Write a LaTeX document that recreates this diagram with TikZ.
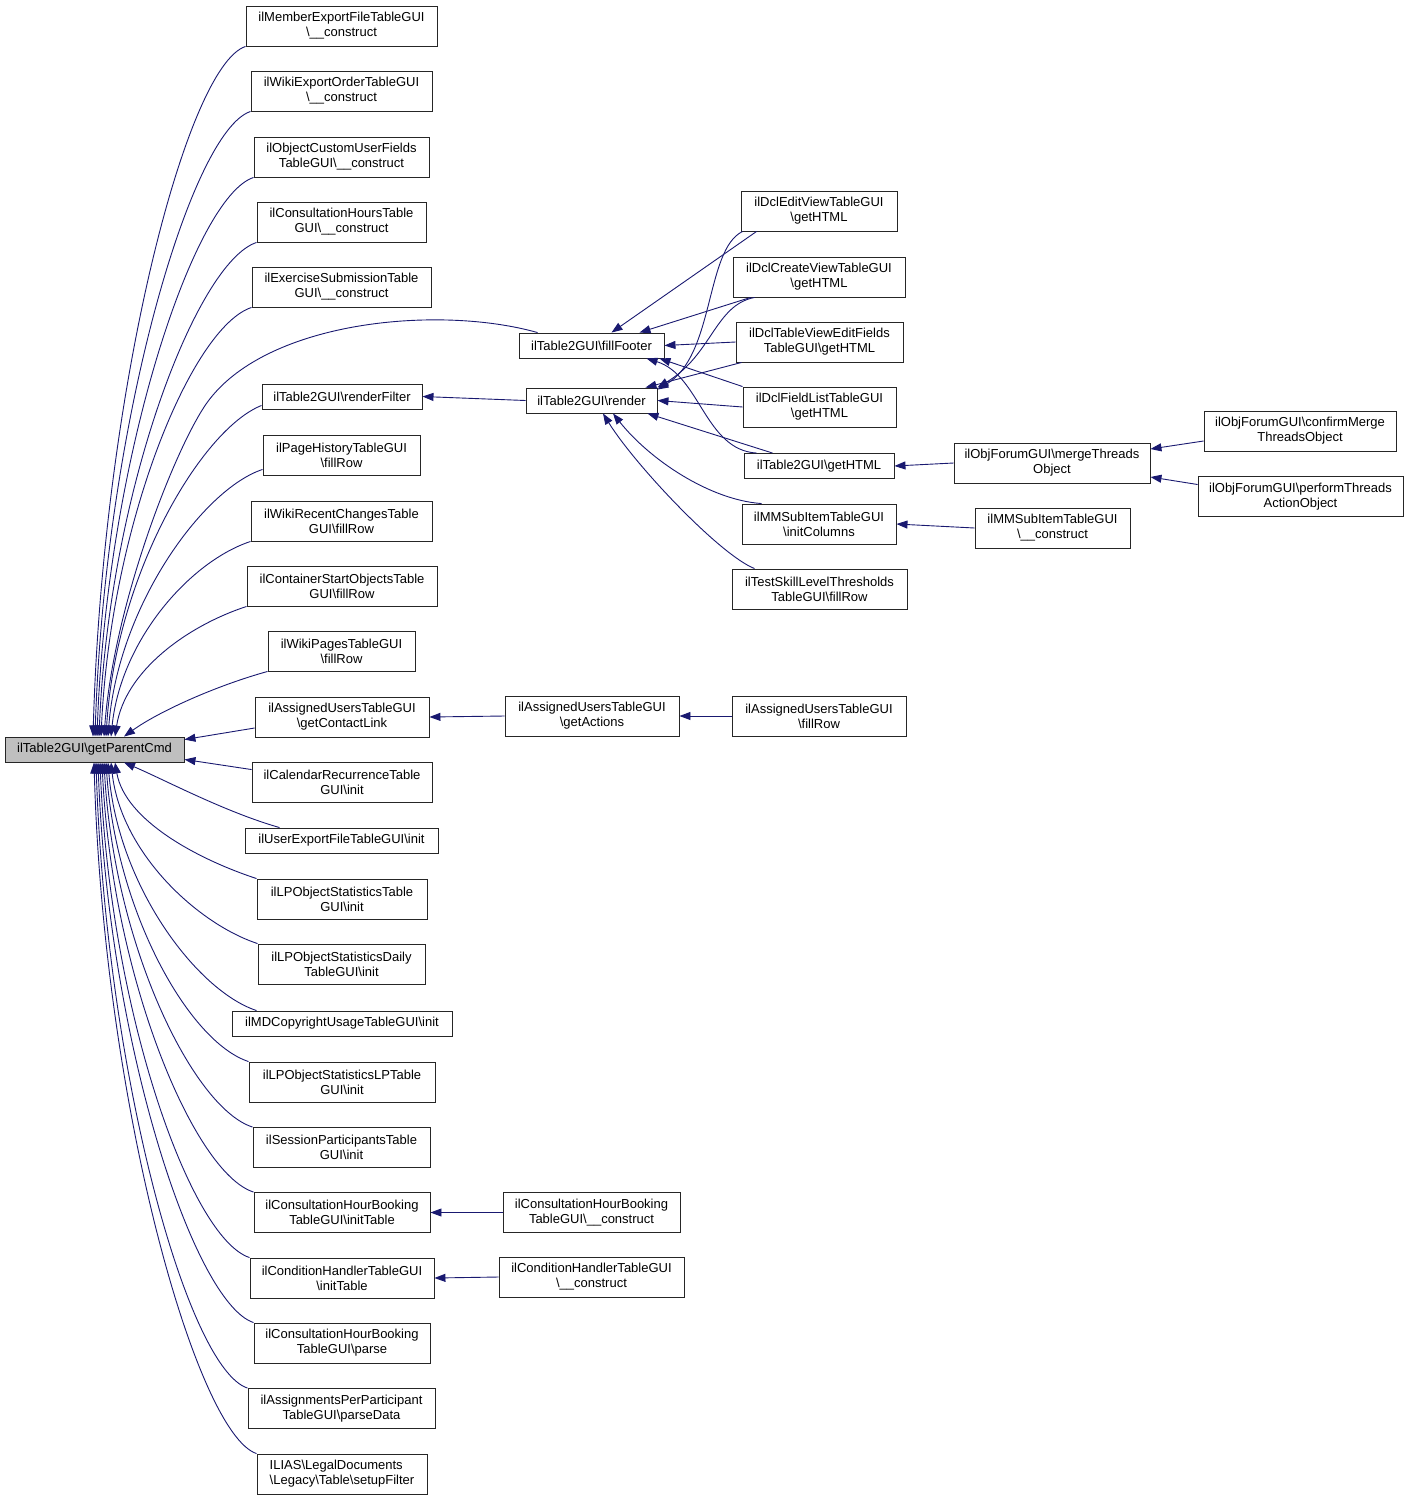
\documentclass[tikz,border=0pt]{standalone}
\usepackage{fontspec}
\setmainfont{Liberation Sans}
\usetikzlibrary{arrows.meta}
\definecolor{midblue}{HTML}{191970}
\newcommand{\bksl}{\textbackslash}
\tikzset{
	fn/.style={draw=black!85, fill=white, line width=0.9pt, inner sep=0pt, align=center, font=\fontsize{13}{15}\selectfont, minimum height=40pt},
	fnone/.style={fn, minimum height=25pt},
	focus/.style={fnone, fill=gray!50},
	calls/.style={draw=midblue, line width=0.9pt, ->, >={Triangle[length=11pt,width=8pt]}}
}

\begin{document}
\begin{tikzpicture}[x=1pt, y=-1pt]
\useasboundingbox (0,0) rectangle (1408,1500);
% the function itself
\node[focus, minimum width=179pt] (root) at (94.5,749.5) {ilTable2GUI\bksl getParentCmd};
% direct callers
\node[fn, minimum width=191pt] (m1) at (341.5,26) {ilMemberExportFileTableGUI\\\bksl\_\_construct};
\node[fn, minimum width=181pt] (m2) at (341.5,91) {ilWikiExportOrderTableGUI\\\bksl\_\_construct};
\node[fn, minimum width=175pt] (m3) at (341.5,157) {ilObjectCustomUserFields\\TableGUI\bksl\_\_construct};
\node[fn, minimum width=169pt] (m4) at (341.5,222) {ilConsultationHoursTable\\GUI\bksl\_\_construct};
\node[fn, minimum width=179pt] (m5) at (341.5,287) {ilExerciseSubmissionTable\\GUI\bksl\_\_construct};
\node[fnone, minimum width=160pt] (renderFilter) at (342,396.5) {ilTable2GUI\bksl renderFilter};
\node[fn, minimum width=157pt] (m7) at (341.5,455) {ilPageHistoryTableGUI\\\bksl fillRow};
\node[fn, minimum width=181pt] (m8) at (341.5,521) {ilWikiRecentChangesTable\\GUI\bksl fillRow};
\node[fn, minimum width=190pt] (m9) at (342,586) {ilContainerStartObjectsTable\\GUI\bksl fillRow};
\node[fn, minimum width=147pt] (m10) at (341.5,651) {ilWikiPagesTableGUI\\\bksl fillRow};
\node[fn, minimum width=174pt] (contactLink) at (342,717) {ilAssignedUsersTableGUI\\\bksl getContactLink};
\node[fn, minimum width=180pt] (m12) at (342,782) {ilCalendarRecurrenceTable\\GUI\bksl init};
\node[fnone, minimum width=193pt] (m13) at (341.5,840.5) {ilUserExportFileTableGUI\bksl init};
\node[fn, minimum width=170pt] (m14) at (342,899) {ilLPObjectStatisticsTable\\GUI\bksl init};
\node[fn, minimum width=167pt] (m15) at (341.5,964) {ilLPObjectStatisticsDaily\\TableGUI\bksl init};
\node[fnone, minimum width=220pt] (m16) at (342,1023.5) {ilMDCopyrightUsageTableGUI\bksl init};
\node[fn, minimum width=186pt] (m17) at (342,1082) {ilLPObjectStatisticsLPTable\\GUI\bksl init};
\node[fn, minimum width=177pt] (m18) at (341.5,1147.5) {ilSessionParticipantsTable\\GUI\bksl init};
\node[fn, minimum width=176pt] (m19) at (342,1212.5) {ilConsultationHourBooking\\TableGUI\bksl initTable};
\node[fn, minimum width=184pt] (m20) at (342,1278) {ilConditionHandlerTableGUI\\\bksl initTable};
\node[fn, minimum width=176pt] (m21) at (342,1343) {ilConsultationHourBooking\\TableGUI\bksl parse};
\node[fn, minimum width=187pt] (m22) at (341.5,1408.5) {ilAssignmentsPerParticipant\\TableGUI\bksl parseData};
\node[fn, minimum width=170pt, align=left] (m23) at (342,1474) {ILIAS\bksl LegalDocuments\\\bksl Legacy\bksl Table\bksl setupFilter};
% second level
\node[fnone, minimum width=145pt] (fillFooter) at (591.5,345.5) {ilTable2GUI\bksl fillFooter};
\node[fnone, minimum width=131pt] (render) at (591.5,400.5) {ilTable2GUI\bksl render};
\node[fn, minimum width=174pt] (getActions) at (592,716) {ilAssignedUsersTableGUI\\\bksl getActions};
\node[fn, minimum width=177pt] (chbCons) at (591.5,1212.5) {ilConsultationHourBooking\\TableGUI\bksl\_\_construct};
\node[fn, minimum width=185pt] (chCons) at (591.5,1277) {ilConditionHandlerTableGUI\\\bksl\_\_construct};
% third level
\node[fn, minimum width=156pt] (dclEdit) at (819,211) {ilDclEditViewTableGUI\\\bksl getHTML};
\node[fn, minimum width=172pt] (dclCreate) at (819,277) {ilDclCreateViewTableGUI\\\bksl getHTML};
\node[fn, minimum width=167pt] (dclFields) at (819.5,342) {ilDclTableViewEditFields\\TableGUI\bksl getHTML};
\node[fn, minimum width=153pt] (dclList) at (819.5,407) {ilDclFieldListTableGUI\\\bksl getHTML};
\node[fnone, minimum width=150pt] (getHTML) at (819,466) {ilTable2GUI\bksl getHTML};
\node[fn, minimum width=154pt] (initCols) at (819,524) {ilMMSubItemTableGUI\\\bksl initColumns};
\node[fn, minimum width=175pt] (testSkill) at (819.5,589) {ilTestSkillLevelThresholds\\TableGUI\bksl fillRow};
\node[fn, minimum width=174pt] (auFill) at (819,716) {ilAssignedUsersTableGUI\\\bksl fillRow};
% fourth and fifth level
\node[fn, minimum width=196pt] (merge) at (1052,463) {ilObjForumGUI\bksl mergeThreads\\Object};
\node[fn, minimum width=155pt] (mmsub) at (1052.5,528) {ilMMSubItemTableGUI\\\bksl\_\_construct};
\node[fn, minimum width=192pt] (confirm) at (1300,431) {ilObjForumGUI\bksl confirmMerge\\ThreadsObject};
\node[fn, minimum width=205pt] (perform) at (1300.5,496.5) {ilObjForumGUI\bksl performThreads\\ActionObject};

% edges into getParentCmd from above
\draw[calls] (m1.south west) .. controls (186,66) and (103,391) .. ([xshift=-1.5pt]root.north);
\draw[calls] (m2.south west) .. controls (191,131) and (105,424) .. ([xshift=0.5pt]root.north);
\draw[calls] (m3.south west) .. controls (194,197) and (107,457) .. ([xshift=2.5pt]root.north);
\draw[calls] (m4.south west) .. controls (197,262) and (109,490) .. ([xshift=4.5pt]root.north);
\draw[calls] (m5.south west) .. controls (192,327) and (111,522) .. ([xshift=6.5pt]root.north);
\draw[calls] ([xshift=19pt]fillFooter.north west) .. controls (440,305) and (270,320) .. (209,400)
	.. controls (179,439) and (114,600) .. ([xshift=9.5pt]root.north);
\draw[calls] ([yshift=4pt]renderFilter.south west) .. controls (202,429) and (116,573) .. ([xshift=11.5pt]root.north);
\draw[calls] ([yshift=6pt]m7.south west) .. controls (203,489) and (118,606) .. ([xshift=13.5pt]root.north);
\draw[calls] (m8.south west) .. controls (191,561) and (121,639) .. ([xshift=16.5pt]root.north);
\draw[calls] (m9.south west) .. controls (187,626) and (125,671) .. ([xshift=20.5pt]root.north);
\draw[calls] (m10.south west) .. controls (215,686) and (158,712) .. ([xshift=29.5pt]root.north);
\draw[calls] ([yshift=-11pt]contactLink.west) -- ([yshift=-3pt]root.north east);
% edges into getParentCmd from below
\draw[calls] ([yshift=-8pt]m12.north west) -- ([yshift=3pt]root.south east);
\draw[calls] ([xshift=35pt]m13.north west) .. controls (225,812) and (165,780) .. ([xshift=29.5pt]root.south);
\draw[calls] (m14.north west) .. controls (197,859) and (125,820) .. ([xshift=20.5pt]root.south);
\draw[calls] (m15.north west) .. controls (198,924) and (121,853) .. ([xshift=16.5pt]root.south);
\draw[calls] ([xshift=25pt]m16.north west) .. controls (197,991) and (118,886) .. ([xshift=13.5pt]root.south);
\draw[calls] (m17.north west) .. controls (189,1042) and (116,912) .. ([xshift=11.5pt]root.south);
\draw[calls] (m18.north west) .. controls (193,1108) and (114,945) .. ([xshift=9.5pt]root.south);
\draw[calls] (m19.north west) .. controls (194,1173) and (112,977) .. ([xshift=7.5pt]root.south);
\draw[calls] (m20.north west) .. controls (190,1238) and (110,1010) .. ([xshift=5.5pt]root.south);
\draw[calls] (m21.north west) .. controls (194,1303) and (108,1042) .. ([xshift=3.5pt]root.south);
\draw[calls] (m22.north west) .. controls (188,1369) and (106,1075) .. ([xshift=1.5pt]root.south);
\draw[calls] (m23.north west) .. controls (197,1434) and (104,1108) .. ([xshift=-0.5pt]root.south);
% straight calls
\draw[calls] (render.west) -- (renderFilter.east);
\draw[calls] (getActions.west) -- (contactLink.east);
\draw[calls] (auFill.west) -- (getActions.east);
\draw[calls] (chbCons.west) -- (m19.east);
\draw[calls] (chCons.west) -- (m20.east);
\draw[calls] (merge.west) -- (getHTML.east);
\draw[calls] ([yshift=-10pt]confirm.west) -- ([yshift=14pt]merge.east);
\draw[calls] ([yshift=12pt]perform.west) -- ([yshift=-14pt]merge.east);
\draw[calls] (mmsub.west) -- (initCols.east);
% callers of fillFooter
\draw[calls] ([xshift=16pt]dclEdit.south west) -- ([xshift=20pt]fillFooter.north);
\draw[calls] ([xshift=18pt]dclCreate.south west) -- ([xshift=48pt]fillFooter.north);
\draw[calls] (dclFields.west) -- (fillFooter.east);
\draw[calls] (dclList.north west) -- ([xshift=-5pt]fillFooter.south east);
\draw[calls] ([xshift=13pt]getHTML.north west) .. controls (705,450) and (700,375) .. ([xshift=55pt]fillFooter.south);
% callers of render
\draw[calls] ([xshift=2pt]dclEdit.south west) .. controls (705,250) and (715,355) .. ([yshift=-2pt]render.north east);
\draw[calls] ([xshift=22pt]dclCreate.south west) .. controls (715,305) and (712,355) .. (render.north east);
\draw[calls] ([xshift=6pt]dclFields.south west) -- ([xshift=-12pt]render.north east);
\draw[calls] (dclList.west) -- (render.east);
\draw[calls] ([xshift=29pt]getHTML.north west) -- ([xshift=-10pt]render.south east);
\draw[calls] ([xshift=20pt]initCols.north west) .. controls (710,500) and (650,460) .. ([xshift=21.5pt]render.south);
\draw[calls] ([xshift=23pt]testSkill.north west) .. controls (720,555) and (635,465) .. ([xshift=11.5pt]render.south);
\end{tikzpicture}
\end{document}
